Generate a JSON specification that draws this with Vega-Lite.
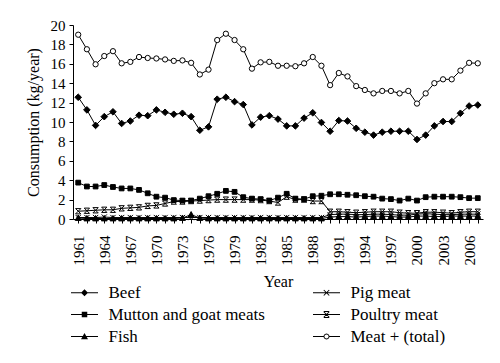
{
"$schema": "https://vega.github.io/schema/vega-lite/v6.json",
"width": 410, "height": 194,
"autosize": {"type": "none"},
"padding": {"left": 73, "top": 25, "right": 17, "bottom": 144},
"background": "white",
"config": {
  "view": {"stroke": null},
  "font": "Liberation Serif",
  "axis": {"domainColor": "black", "tickColor": "black", "labelColor": "black", "titleColor": "black", "labelFont": "Liberation Serif", "titleFont": "Liberation Serif", "titleFontWeight": "normal", "grid": false, "labelFontSize": 15, "titleFontSize": 16, "tickSize": 4, "domainWidth": 1, "tickWidth": 1}
},
"datasets": {"d": [
{"year":1961,"series":"Total","value":19.0},{"year":1962,"series":"Total","value":17.5},{"year":1963,"series":"Total","value":15.95},{"year":1964,"series":"Total","value":16.8},{"year":1965,"series":"Total","value":17.3},{"year":1966,"series":"Total","value":16.05},{"year":1967,"series":"Total","value":16.2},{"year":1968,"series":"Total","value":16.7},{"year":1969,"series":"Total","value":16.6},{"year":1970,"series":"Total","value":16.55},
{"year":1971,"series":"Total","value":16.45},{"year":1972,"series":"Total","value":16.3},{"year":1973,"series":"Total","value":16.35},{"year":1974,"series":"Total","value":16.1},{"year":1975,"series":"Total","value":14.9},{"year":1976,"series":"Total","value":15.4},{"year":1977,"series":"Total","value":18.45},{"year":1978,"series":"Total","value":19.1},{"year":1979,"series":"Total","value":18.45},{"year":1980,"series":"Total","value":17.5},
{"year":1981,"series":"Total","value":15.5},{"year":1982,"series":"Total","value":16.15},{"year":1983,"series":"Total","value":16.2},{"year":1984,"series":"Total","value":15.8},{"year":1985,"series":"Total","value":15.8},{"year":1986,"series":"Total","value":15.75},{"year":1987,"series":"Total","value":16.05},{"year":1988,"series":"Total","value":16.7},{"year":1989,"series":"Total","value":15.8},{"year":1990,"series":"Total","value":13.8},
{"year":1991,"series":"Total","value":15.05},{"year":1992,"series":"Total","value":14.7},{"year":1993,"series":"Total","value":13.7},{"year":1994,"series":"Total","value":13.3},{"year":1995,"series":"Total","value":12.95},{"year":1996,"series":"Total","value":13.2},{"year":1997,"series":"Total","value":13.2},{"year":1998,"series":"Total","value":12.95},{"year":1999,"series":"Total","value":13.2},{"year":2000,"series":"Total","value":11.9},
{"year":2001,"series":"Total","value":12.95},{"year":2002,"series":"Total","value":14.0},{"year":2003,"series":"Total","value":14.4},{"year":2004,"series":"Total","value":14.4},{"year":2005,"series":"Total","value":15.3},{"year":2006,"series":"Total","value":16.1},{"year":2007,"series":"Total","value":16.05},
{"year":1961,"series":"Beef","value":12.55},{"year":1962,"series":"Beef","value":11.25},{"year":1963,"series":"Beef","value":9.65},{"year":1964,"series":"Beef","value":10.55},{"year":1965,"series":"Beef","value":11.05},{"year":1966,"series":"Beef","value":9.85},{"year":1967,"series":"Beef","value":10.1},{"year":1968,"series":"Beef","value":10.7},{"year":1969,"series":"Beef","value":10.65},{"year":1970,"series":"Beef","value":11.25},
{"year":1971,"series":"Beef","value":11.0},{"year":1972,"series":"Beef","value":10.8},{"year":1973,"series":"Beef","value":10.9},{"year":1974,"series":"Beef","value":10.55},{"year":1975,"series":"Beef","value":9.15},{"year":1976,"series":"Beef","value":9.5},{"year":1977,"series":"Beef","value":12.35},{"year":1978,"series":"Beef","value":12.55},{"year":1979,"series":"Beef","value":12.1},{"year":1980,"series":"Beef","value":11.8},
{"year":1981,"series":"Beef","value":9.7},{"year":1982,"series":"Beef","value":10.5},{"year":1983,"series":"Beef","value":10.65},{"year":1984,"series":"Beef","value":10.3},{"year":1985,"series":"Beef","value":9.6},{"year":1986,"series":"Beef","value":9.6},{"year":1987,"series":"Beef","value":10.4},{"year":1988,"series":"Beef","value":10.95},{"year":1989,"series":"Beef","value":9.95},{"year":1990,"series":"Beef","value":9.05},
{"year":1991,"series":"Beef","value":10.15},{"year":1992,"series":"Beef","value":10.1},{"year":1993,"series":"Beef","value":9.35},{"year":1994,"series":"Beef","value":8.95},{"year":1995,"series":"Beef","value":8.65},{"year":1996,"series":"Beef","value":8.95},{"year":1997,"series":"Beef","value":9.05},{"year":1998,"series":"Beef","value":9.05},{"year":1999,"series":"Beef","value":9.05},{"year":2000,"series":"Beef","value":8.2},
{"year":2001,"series":"Beef","value":8.65},{"year":2002,"series":"Beef","value":9.6},{"year":2003,"series":"Beef","value":10.05},{"year":2004,"series":"Beef","value":10.05},{"year":2005,"series":"Beef","value":10.9},{"year":2006,"series":"Beef","value":11.65},{"year":2007,"series":"Beef","value":11.75},
{"year":1961,"series":"Mutton","value":3.75},{"year":1962,"series":"Mutton","value":3.35},{"year":1963,"series":"Mutton","value":3.35},{"year":1964,"series":"Mutton","value":3.5},{"year":1965,"series":"Mutton","value":3.3},{"year":1966,"series":"Mutton","value":3.15},{"year":1967,"series":"Mutton","value":3.15},{"year":1968,"series":"Mutton","value":3.0},{"year":1969,"series":"Mutton","value":2.65},{"year":1970,"series":"Mutton","value":2.3},
{"year":1971,"series":"Mutton","value":2.2},{"year":1972,"series":"Mutton","value":1.95},{"year":1973,"series":"Mutton","value":1.9},{"year":1974,"series":"Mutton","value":1.9},{"year":1975,"series":"Mutton","value":2.1},{"year":1976,"series":"Mutton","value":2.35},{"year":1977,"series":"Mutton","value":2.6},{"year":1978,"series":"Mutton","value":2.9},{"year":1979,"series":"Mutton","value":2.8},{"year":1980,"series":"Mutton","value":2.25},
{"year":1981,"series":"Mutton","value":2.1},{"year":1982,"series":"Mutton","value":2.05},{"year":1983,"series":"Mutton","value":1.9},{"year":1984,"series":"Mutton","value":2.2},{"year":1985,"series":"Mutton","value":2.6},{"year":1986,"series":"Mutton","value":2.1},{"year":1987,"series":"Mutton","value":2.05},{"year":1988,"series":"Mutton","value":2.35},{"year":1989,"series":"Mutton","value":2.4},{"year":1990,"series":"Mutton","value":2.55},
{"year":1991,"series":"Mutton","value":2.55},{"year":1992,"series":"Mutton","value":2.5},{"year":1993,"series":"Mutton","value":2.45},{"year":1994,"series":"Mutton","value":2.35},{"year":1995,"series":"Mutton","value":2.3},{"year":1996,"series":"Mutton","value":2.1},{"year":1997,"series":"Mutton","value":2.05},{"year":1998,"series":"Mutton","value":1.9},{"year":1999,"series":"Mutton","value":2.1},{"year":2000,"series":"Mutton","value":1.9},
{"year":2001,"series":"Mutton","value":2.25},{"year":2002,"series":"Mutton","value":2.3},{"year":2003,"series":"Mutton","value":2.3},{"year":2004,"series":"Mutton","value":2.3},{"year":2005,"series":"Mutton","value":2.25},{"year":2006,"series":"Mutton","value":2.15},{"year":2007,"series":"Mutton","value":2.15},
{"year":1961,"series":"Poultry","value":0.8},{"year":1962,"series":"Poultry","value":0.85},{"year":1963,"series":"Poultry","value":0.9},{"year":1964,"series":"Poultry","value":0.95},{"year":1965,"series":"Poultry","value":0.95},{"year":1966,"series":"Poultry","value":1.1},{"year":1967,"series":"Poultry","value":1.15},{"year":1968,"series":"Poultry","value":1.2},{"year":1969,"series":"Poultry","value":1.35},{"year":1970,"series":"Poultry","value":1.4},
{"year":1971,"series":"Poultry","value":1.6},{"year":1972,"series":"Poultry","value":1.8},{"year":1973,"series":"Poultry","value":1.8},{"year":1974,"series":"Poultry","value":1.85},{"year":1975,"series":"Poultry","value":1.9},{"year":1976,"series":"Poultry","value":1.95},{"year":1977,"series":"Poultry","value":2.0},{"year":1978,"series":"Poultry","value":2.0},{"year":1979,"series":"Poultry","value":2.0},{"year":1980,"series":"Poultry","value":2.0},
{"year":1981,"series":"Poultry","value":2.0},{"year":1982,"series":"Poultry","value":1.95},{"year":1983,"series":"Poultry","value":1.85},{"year":1984,"series":"Poultry","value":1.7},{"year":1985,"series":"Poultry","value":2.3},{"year":1986,"series":"Poultry","value":2.0},{"year":1987,"series":"Poultry","value":2.0},{"year":1988,"series":"Poultry","value":1.85},{"year":1989,"series":"Poultry","value":1.85},{"year":1990,"series":"Poultry","value":0.75},
{"year":1991,"series":"Poultry","value":0.75},{"year":1992,"series":"Poultry","value":0.7},{"year":1993,"series":"Poultry","value":0.65},{"year":1994,"series":"Poultry","value":0.7},{"year":1995,"series":"Poultry","value":0.75},{"year":1996,"series":"Poultry","value":0.75},{"year":1997,"series":"Poultry","value":0.75},{"year":1998,"series":"Poultry","value":0.65},{"year":1999,"series":"Poultry","value":0.6},{"year":2000,"series":"Poultry","value":0.6},
{"year":2001,"series":"Poultry","value":0.7},{"year":2002,"series":"Poultry","value":0.7},{"year":2003,"series":"Poultry","value":0.65},{"year":2004,"series":"Poultry","value":0.6},{"year":2005,"series":"Poultry","value":0.7},{"year":2006,"series":"Poultry","value":0.75},{"year":2007,"series":"Poultry","value":0.75},
{"year":1961,"series":"Pig","value":0.15},{"year":1962,"series":"Pig","value":0.15},{"year":1963,"series":"Pig","value":0.15},{"year":1964,"series":"Pig","value":0.2},{"year":1965,"series":"Pig","value":0.15},{"year":1966,"series":"Pig","value":0.15},{"year":1967,"series":"Pig","value":0.15},{"year":1968,"series":"Pig","value":0.15},{"year":1969,"series":"Pig","value":0.15},{"year":1970,"series":"Pig","value":0.15},
{"year":1971,"series":"Pig","value":0.15},{"year":1972,"series":"Pig","value":0.15},{"year":1973,"series":"Pig","value":0.15},{"year":1974,"series":"Pig","value":0.15},{"year":1975,"series":"Pig","value":0.15},{"year":1976,"series":"Pig","value":0.15},{"year":1977,"series":"Pig","value":0.15},{"year":1978,"series":"Pig","value":0.15},{"year":1979,"series":"Pig","value":0.15},{"year":1980,"series":"Pig","value":0.15},
{"year":1981,"series":"Pig","value":0.15},{"year":1982,"series":"Pig","value":0.15},{"year":1983,"series":"Pig","value":0.15},{"year":1984,"series":"Pig","value":0.15},{"year":1985,"series":"Pig","value":0.15},{"year":1986,"series":"Pig","value":0.15},{"year":1987,"series":"Pig","value":0.15},{"year":1988,"series":"Pig","value":0.15},{"year":1989,"series":"Pig","value":0.15},{"year":1990,"series":"Pig","value":0.45},
{"year":1991,"series":"Pig","value":0.5},{"year":1992,"series":"Pig","value":0.5},{"year":1993,"series":"Pig","value":0.45},{"year":1994,"series":"Pig","value":0.45},{"year":1995,"series":"Pig","value":0.5},{"year":1996,"series":"Pig","value":0.5},{"year":1997,"series":"Pig","value":0.45},{"year":1998,"series":"Pig","value":0.4},{"year":1999,"series":"Pig","value":0.4},{"year":2000,"series":"Pig","value":0.5},
{"year":2001,"series":"Pig","value":0.55},{"year":2002,"series":"Pig","value":0.5},{"year":2003,"series":"Pig","value":0.45},{"year":2004,"series":"Pig","value":0.45},{"year":2005,"series":"Pig","value":0.5},{"year":2006,"series":"Pig","value":0.5},{"year":2007,"series":"Pig","value":0.5},
{"year":1961,"series":"Fish","value":0.1},{"year":1962,"series":"Fish","value":0.05},{"year":1963,"series":"Fish","value":0.05},{"year":1964,"series":"Fish","value":0.05},{"year":1965,"series":"Fish","value":0.05},{"year":1966,"series":"Fish","value":0.05},{"year":1967,"series":"Fish","value":0.05},{"year":1968,"series":"Fish","value":0.05},{"year":1969,"series":"Fish","value":0.05},{"year":1970,"series":"Fish","value":0.05},
{"year":1971,"series":"Fish","value":0.05},{"year":1972,"series":"Fish","value":0.05},{"year":1973,"series":"Fish","value":0.1},{"year":1974,"series":"Fish","value":0.45},{"year":1975,"series":"Fish","value":0.1},{"year":1976,"series":"Fish","value":0.05},{"year":1977,"series":"Fish","value":0.05},{"year":1978,"series":"Fish","value":0.05},{"year":1979,"series":"Fish","value":0.05},{"year":1980,"series":"Fish","value":0.05},
{"year":1981,"series":"Fish","value":0.05},{"year":1982,"series":"Fish","value":0.05},{"year":1983,"series":"Fish","value":0.05},{"year":1984,"series":"Fish","value":0.05},{"year":1985,"series":"Fish","value":0.05},{"year":1986,"series":"Fish","value":0.05},{"year":1987,"series":"Fish","value":0.05},{"year":1988,"series":"Fish","value":0.05},{"year":1989,"series":"Fish","value":0.05},{"year":1990,"series":"Fish","value":0.2},
{"year":1991,"series":"Fish","value":0.25},{"year":1992,"series":"Fish","value":0.25},{"year":1993,"series":"Fish","value":0.2},{"year":1994,"series":"Fish","value":0.25},{"year":1995,"series":"Fish","value":0.3},{"year":1996,"series":"Fish","value":0.3},{"year":1997,"series":"Fish","value":0.25},{"year":1998,"series":"Fish","value":0.2},{"year":1999,"series":"Fish","value":0.2},{"year":2000,"series":"Fish","value":0.3},
{"year":2001,"series":"Fish","value":0.3},{"year":2002,"series":"Fish","value":0.25},{"year":2003,"series":"Fish","value":0.25},{"year":2004,"series":"Fish","value":0.3},{"year":2005,"series":"Fish","value":0.3},{"year":2006,"series":"Fish","value":0.3},{"year":2007,"series":"Fish","value":0.3}
]},
"data": {"name": "d"},
"encoding": {
  "x": {"field": "year", "type": "quantitative", "scale": {"domain": [1960.4, 2007.6], "nice": false, "zero": false},
    "axis": {"title": "Year", "values": [1961,1962,1963,1964,1965,1966,1967,1968,1969,1970,1971,1972,1973,1974,1975,1976,1977,1978,1979,1980,1981,1982,1983,1984,1985,1986,1987,1988,1989,1990,1991,1992,1993,1994,1995,1996,1997,1998,1999,2000,2001,2002,2003,2004,2005,2006,2007],
      "labelExpr": "(datum.value - 1961) % 3 == 0 ? datum.value : ''", "labelAngle": -90, "labelOverlap": false, "labelFlush": false, "labelPadding": 12, "titlePadding": 8,
      "labelFont": "Liberation Serif", "labelFontSize": 15, "titleFont": "Liberation Serif", "titleFontSize": 16}},
  "y": {"field": "value", "type": "quantitative", "scale": {"domain": [0, 20], "nice": false},
    "axis": {"title": "Consumption (kg/year)", "values": [0,2,4,6,8,10,12,14,16,18,20], "labelPadding": 4, "titlePadding": 9,
      "labelFont": "Liberation Serif", "labelFontSize": 15, "titleFont": "Liberation Serif", "titleFontSize": 16}}
},
"layer": [
  {"mark": {"type": "line", "color": "black", "strokeWidth": 1},
   "encoding": {"detail": {"field": "series"}}},
  {"mark": {"type": "point", "stroke": "black", "strokeWidth": 1, "size": 28, "opacity": 1},
   "encoding": {
     "shape": {"field": "series", "type": "nominal", "legend": null,
       "scale": {"domain": ["Beef","Mutton","Fish","Pig","Poultry","Total"],
         "range": ["M-1.25,0L0,-1.25L1.25,0L0,1.25Z", "M-0.9,-0.9H0.9V0.9H-0.9Z", "M0,-1.15L1.1,0.9H-1.1Z", "M-1,-1L1,1M-1,1L1,-1", "M-1,-1H1M-1,1H1M-1,-1L1,1M1,-1L-1,1", "circle"]}},
     "fill": {"field": "series", "type": "nominal", "legend": null,
       "scale": {"domain": ["Beef","Mutton","Fish","Pig","Poultry","Total"], "range": ["black","black","black","black","black","white"]}}
   }},
  {"mark": {"type": "point", "opacity": 0, "filled": true, "color": "black"},
   "encoding": {
     "shape": {"field": "series", "type": "nominal",
       "scale": {"domain": ["Beef","Mutton","Fish","Pig","Poultry","Total"],
         "range": [
           "M-2.7,-0.1H2.7V0.1H-2.7ZM-0.7,0L0,-0.7L0.7,0L0,0.7Z",
           "M-2.7,-0.1H2.7V0.1H-2.7ZM-0.55,-0.55H0.55V0.55H-0.55Z",
           "M-2.7,-0.1H2.7V0.1H-2.7ZM0,-0.7L0.7,0.55H-0.7Z",
           "M-2.7,-0.1H2.7V0.1H-2.7ZM-0.48,-0.62L0.62,0.48L0.48,0.62L-0.62,-0.48ZM-0.62,0.48L0.48,-0.62L0.62,-0.48L-0.48,0.62Z",
           "M-2.7,-0.1H2.7V0.1H-2.7ZM-0.48,-0.62L0.62,0.48L0.48,0.62L-0.62,-0.48ZM-0.62,0.48L0.48,-0.62L0.62,-0.48L-0.48,0.62ZM-0.55,-0.7H0.55V-0.5H-0.55ZM-0.55,0.5H0.55V0.7H-0.55Z",
           "M-2.7,-0.1H-0.55V0.1H-2.7ZM0.55,-0.1H2.7V0.1H0.55ZM0.6,0L0.52,0.3L0.3,0.52L0,0.6L-0.3,0.52L-0.52,0.3L-0.6,0L-0.52,-0.3L-0.3,-0.52L0,-0.6L0.3,-0.52L0.52,-0.3ZM0.42,0L0.364,-0.21L0.21,-0.364L0,-0.42L-0.21,-0.364L-0.364,-0.21L-0.42,0L-0.364,0.21L-0.21,0.364L0,0.42L0.21,0.364L0.364,0.21Z"
         ]},
       "legend": {"orient": "none", "legendX": 3, "legendY": 259, "columns": 2, "columnPadding": 48, "rowPadding": 4, "padding": 0, "direction": "vertical",
         "title": null, "symbolSize": 100, "labelOffset": 15.5, "labelFontSize": 17, "labelFont": "Liberation Serif", "labelColor": "black",
         "symbolOpacity": 1, "symbolFillColor": "black", "symbolStrokeWidth": 0, "labelLimit": 300,
         "labelExpr": "{'Beef':'Beef','Pig':'Pig meat','Mutton':'Mutton and goat meats','Poultry':'Poultry meat','Fish':'Fish','Total':'Meat + (total)'}[datum.label]"}
     }
   }}
],
"resolve": {"scale": {"shape": "independent"}, "legend": {"shape": "independent"}}
}
